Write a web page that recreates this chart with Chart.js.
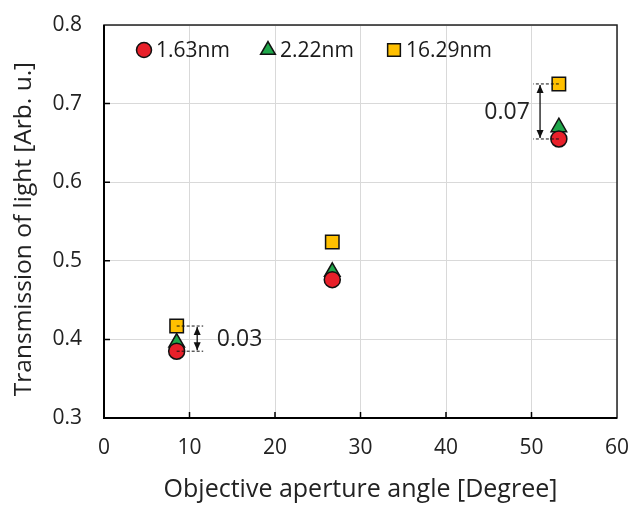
<!DOCTYPE html>
<html lang="en">
<head>
  <meta charset="UTF-8">
  <title>Transmission of light vs objective aperture angle</title>
  <script src="https://cdn.jsdelivr.net/npm/chart.js"></script>
  <style>
    html, body { margin: 0; padding: 0; background: #fff; }
    #wrap { width: 630px; height: 505px; position: relative; }
  </style>
</head>
<body>
  <div id="wrap"><canvas id="chart"></canvas></div>

  <script>
  // aperture angles (degree) and transmission for each thickness
  const angles = [8.5, 26.7, 53.2];
  const t163 = [0.385, 0.476, 0.655];
  const t222 = [0.396, 0.486, 0.670];
  const t1629 = [0.417, 0.524, 0.725];
  const seriesNames = ['1.63nm', '2.22nm', '16.29nm'];
  const xTicks = [0, 10, 20, 30, 40, 50, 60];
  const yTicks = [0.3, 0.4, 0.5, 0.6, 0.7, 0.8];
  const yTitle = 'Transmission of light [Arb. u.]';

  const FONT = '"Open Sans", "Noto Sans", sans-serif';
  const pts = ys => ys.map((y, i) => ({ x: angles[i], y }));

  const styles = [
    { pointStyle: 'circle', backgroundColor: '#e8202a', radius: 8 },
    { pointStyle: 'triangle', backgroundColor: '#1fa64a', radius: 9 },
    { pointStyle: 'rect', backgroundColor: '#ffc000', radius: 9.5 }
  ];

  const datasets = [t163, t222, t1629].map((vals, i) => ({
    label: seriesNames[i],
    data: pts(vals),
    pointStyle: styles[i].pointStyle,
    backgroundColor: styles[i].backgroundColor,
    borderColor: '#111',
    borderWidth: 1.5,
    pointRadius: styles[i].radius,
    pointHoverRadius: styles[i].radius,
    showLine: false
  }));

  // frame, inward ticks, y title, legend and difference arrows
  const decor = {
    id: 'decor',
    afterDraw(chart) {
      const { ctx, chartArea: a, scales: { x, y } } = chart;
      ctx.save();

      // frame
      ctx.strokeStyle = '#222';
      ctx.lineWidth = 1.5;
      ctx.strokeRect(a.left, a.top, a.right - a.left, a.bottom - a.top);
      ctx.strokeStyle = '#000';
      ctx.lineWidth = 2;
      ctx.beginPath();
      ctx.moveTo(a.left, a.top);
      ctx.lineTo(a.left, a.bottom);
      ctx.lineTo(a.right, a.bottom);
      ctx.stroke();

      // inward tick marks
      ctx.lineWidth = 1.5;
      ctx.beginPath();
      xTicks.slice(1, -1).forEach(v => {
        const px = x.getPixelForValue(v);
        ctx.moveTo(px, a.bottom);
        ctx.lineTo(px, a.bottom - 6);
      });
      yTicks.slice(1, -1).forEach(v => {
        const py = y.getPixelForValue(v);
        ctx.moveTo(a.left, py);
        ctx.lineTo(a.left + 6, py);
      });
      ctx.stroke();

      // rotated y title
      ctx.save();
      ctx.translate(24, 229);
      ctx.rotate(-Math.PI / 2);
      ctx.font = '24.5px ' + FONT;
      ctx.fillStyle = '#222';
      ctx.textAlign = 'center';
      ctx.textBaseline = 'middle';
      ctx.fillText(yTitle, 0, 0);
      ctx.restore();

      // legend inside plot
      const lx = [144, 268, 394];
      const ly = 50;
      ctx.font = '21px ' + FONT;
      ctx.textBaseline = 'middle';
      ctx.textAlign = 'left';
      chart.data.datasets.forEach((ds, i) => {
        ctx.fillStyle = ds.backgroundColor;
        ctx.strokeStyle = '#111';
        ctx.lineWidth = 1.5;
        Chart.helpers.drawPoint(ctx, {
          pointStyle: ds.pointStyle,
          radius: ds.pointRadius - 0.5,
          rotation: 0,
          borderWidth: 1.5
        }, lx[i], ly);
        ctx.fillStyle = '#1a1a1a';
        ctx.fillText(ds.label, lx[i] + 12, ly + 1);
      });

      // difference markers between thickest and thinnest film
      const diffs = [
        { idx: 0, dashTo: 11.6, arrowX: 10.9, textX: 13.2, align: 'left' },
        { idx: 2, dashTo: 50.2, arrowX: 51.0, textX: 49.8, align: 'right' }
      ];
      diffs.forEach(d => {
        const hi = t1629[d.idx], lo = t163[d.idx];
        const px0 = x.getPixelForValue(angles[d.idx]);
        const px1 = x.getPixelForValue(d.dashTo);
        const pax = x.getPixelForValue(d.arrowX);
        const pyHi = y.getPixelForValue(hi);
        const pyLo = y.getPixelForValue(lo);

        ctx.strokeStyle = '#111';
        ctx.lineWidth = 1;
        ctx.setLineDash([3, 2]);
        ctx.beginPath();
        ctx.moveTo(px0, pyHi); ctx.lineTo(px1, pyHi);
        ctx.moveTo(px0, pyLo); ctx.lineTo(px1, pyLo);
        ctx.stroke();
        ctx.setLineDash([]);

        ctx.lineWidth = 1.3;
        ctx.beginPath();
        ctx.moveTo(pax, pyHi + 1); ctx.lineTo(pax, pyLo - 1);
        ctx.stroke();
        ctx.fillStyle = '#111';
        [[pyHi + 1, 1], [pyLo - 1, -1]].forEach(([py, dir]) => {
          ctx.beginPath();
          ctx.moveTo(pax, py);
          ctx.lineTo(pax - 3.5, py + dir * 8);
          ctx.lineTo(pax + 3.5, py + dir * 8);
          ctx.closePath();
          ctx.fill();
        });

        ctx.font = '23px ' + FONT;
        ctx.textAlign = d.align;
        ctx.textBaseline = 'middle';
        ctx.fillStyle = '#222';
        ctx.fillText((hi - lo).toFixed(2), x.getPixelForValue(d.textX), (pyHi + pyLo) / 2 + 1);
      });

      ctx.restore();
    }
  };

  new Chart(document.getElementById('chart'), {
    type: 'scatter',
    data: { datasets },
    plugins: [decor],
    options: {
      responsive: true,
      maintainAspectRatio: false,
      animation: false,
      layout: { padding: { top: 25, right: 13, left: 0, bottom: 0 } },
      plugins: { legend: { display: false }, tooltip: { enabled: false } },
      scales: {
        x: {
          type: 'linear',
          min: 0, max: 60,
          afterBuildTicks: s => { s.ticks = xTicks.map(v => ({ value: v })); },
          afterFit: s => { s.height = 87; s.paddingLeft = 0; s.paddingRight = 0; },
          grid: { color: '#d9d9d9', lineWidth: 1, drawTicks: false },
          border: { display: false },
          ticks: { color: '#222', font: { family: FONT, size: 21 }, padding: 17 },
          title: {
            display: true, text: 'Objective aperture angle [Degree]',
            color: '#222', font: { family: FONT, size: 25 }, padding: { top: 6, bottom: 0 }
          }
        },
        y: {
          type: 'linear',
          min: 0.3, max: 0.8,
          afterBuildTicks: s => { s.ticks = yTicks.map(v => ({ value: v })); },
          afterFit: s => { s.width = 104; s.paddingTop = 0; s.paddingBottom = 0; },
          grid: { color: '#d9d9d9', lineWidth: 1, drawTicks: false },
          border: { display: false },
          ticks: {
            color: '#222', font: { family: FONT, size: 21 }, padding: 22,
            callback: v => v.toFixed(1)
          },
          title: { display: false }
        }
      }
    }
  });
  </script>
</body>
</html>
